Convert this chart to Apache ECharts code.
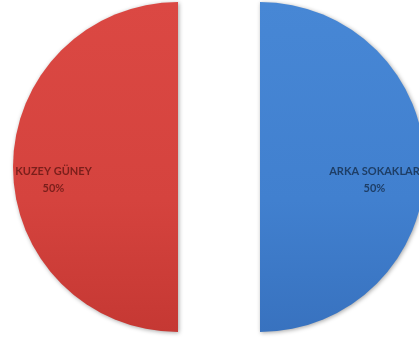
<!DOCTYPE html>
<html>
<head>
<meta charset="utf-8">
<script src="https://cdn.jsdelivr.net/npm/echarts@6/dist/echarts.min.js"></script>
<style>
  html, body { margin: 0; padding: 0; background: #fff; }
  #chart { width: 419px; height: 340px; }
</style>
</head>
<body>
<div id="chart"></div>
<script>
// dilimler
const names = ['ARKA SOKAKLAR', 'KUZEY GÜNEY'];
const values = [50, 50];
const colors = [['#4787d5', '#4180cf', '#3872bf'], ['#db4843', '#d5433e', '#c53833']];
const textColors = ['#1e3e66', '#7a1f1b'];

const chart = echarts.init(document.getElementById('chart'));

const option = {
  animation: false,
  series: [{
    type: 'pie',
    center: [219, 167],
    radius: 165,
    startAngle: 90,
    clockwise: true,
    selectedMode: 'multiple',
    selectedOffset: 41,
    emphasis: { disabled: true },
    label: {
      show: true,
      position: 'inside',
      fontFamily: 'Lato',
      fontWeight: 'bold',
      fontSize: 11,
      lineHeight: 17,
      formatter: '{b}\n{d}%'
    },
    labelLayout: (params) => ({
      dx: params.dataIndex === 0 ? 29 : -39,
      dy: 13
    }),
    data: names.map((n, i) => ({
      name: n,
      value: values[i],
      selected: true,
      label: { color: textColors[i] },
      itemStyle: {
        color: {
          type: 'linear', x: 0, y: 0, x2: 0, y2: 1,
          colorStops: [
            { offset: 0, color: colors[i][0] },
            { offset: 0.6, color: colors[i][1] },
            { offset: 1, color: colors[i][2] }
          ]
        },
        shadowBlur: 4,
        shadowColor: 'rgba(0,0,0,0.35)',
        shadowOffsetX: 1,
        shadowOffsetY: 1
      }
    }))
  }]
};

chart.setOption(option);
</script>
</body>
</html>
